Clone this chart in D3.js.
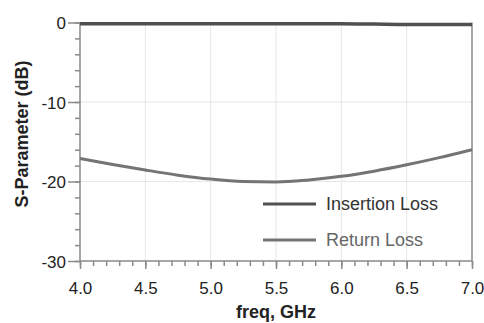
<!DOCTYPE html>
<html>
<head>
<meta charset="utf-8">
<script src="https://cdn.jsdelivr.net/npm/d3@7"></script>
<style>
  body { margin: 0; background: #fff; }
  svg { display: block; font-family: "Liberation Sans", Arial, sans-serif; }
</style>
</head>
<body>
<div id="plot"></div>
<script>
// data
const freq = [4.0, 4.25, 4.5, 4.75, 5.0, 5.25, 5.5, 5.75, 6.0, 6.25, 6.5, 6.75, 7.0];
const insertionLoss = [-0.15, -0.15, -0.15, -0.15, -0.15, -0.15, -0.15, -0.15, -0.15, -0.2, -0.25, -0.25, -0.25];
const returnLoss = [-17.1, -17.85, -18.55, -19.2, -19.7, -20.0, -20.05, -19.8, -19.35, -18.7, -17.9, -17.0, -16.0];
const xTicks = [4.0, 4.5, 5.0, 5.5, 6.0, 6.5, 7.0];
const yTicks = [0, -10, -20, -30];
const seriesNames = ["Insertion Loss", "Return Loss"];

const W = 484, H = 323;
const margin = { top: 22.5, left: 80, bottom: 62, right: 12 };

const svg = d3.select("#plot").append("svg")
    .attr("width", W)
    .attr("height", H);

const x = d3.scaleLinear().domain([4, 7]).range([margin.left, W - margin.right]);
const y = d3.scaleLinear().domain([-30, 0]).range([H - margin.bottom, margin.top]);

const plot = svg.append("g");

// grid
plot.append("g").selectAll("line.vg")
    .data(xTicks.slice(1, -1)).enter().append("line")
    .attr("x1", d => x(d)).attr("x2", d => x(d))
    .attr("y1", y(0)).attr("y2", y(-30))
    .attr("stroke", "#e6e6e6").attr("stroke-width", 1);
plot.append("g").selectAll("line.hg")
    .data(yTicks.slice(1, -1)).enter().append("line")
    .attr("x1", x(4)).attr("x2", x(7))
    .attr("y1", d => y(d)).attr("y2", d => y(d))
    .attr("stroke", "#e6e6e6").attr("stroke-width", 1);

// right border
plot.append("line")
    .attr("x1", x(7)).attr("x2", x(7))
    .attr("y1", y(0)).attr("y2", y(-30))
    .attr("stroke", "#8a8a8a").attr("stroke-width", 1.5);

// x axis: minor every 0.1, major every 0.5
const xMinor = d3.range(40, 71).map(d => d / 10);
const xAxisMinor = d3.axisBottom(x).tickValues(xMinor).tickSize(5).tickFormat("");
const xAxisMajor = d3.axisBottom(x).tickValues(xTicks).tickSize(8).tickPadding(13)
    .tickFormat(d3.format(".1f"));

const gxm = plot.append("g").attr("transform", `translate(0,${y(-30)})`).call(xAxisMinor);
const gx = plot.append("g").attr("transform", `translate(0,${y(-30)})`).call(xAxisMajor);

// y axis: minor every 2 dB, major every 10
const yMinor = d3.range(-30, 1, 2);
const yAxisMinor = d3.axisLeft(y).tickValues(yMinor).tickSize(5).tickFormat("");
const yAxisMajor = d3.axisLeft(y).tickValues(yTicks).tickSize(12).tickPadding(2)
    .tickFormat(d => String(d));

const gym = plot.append("g").attr("transform", `translate(${x(4)},0)`).call(yAxisMinor);
const gy = plot.append("g").attr("transform", `translate(${x(4)},0)`).call(yAxisMajor);

[gxm, gx, gym, gy].forEach(g => {
    g.selectAll("line").attr("stroke", "#8a8a8a").attr("stroke-width", 1.5);
    g.select(".domain").remove();
});
plot.append("line")
    .attr("x1", x(4)).attr("x2", x(7)).attr("y1", y(-30)).attr("y2", y(-30))
    .attr("stroke", "#8a8a8a").attr("stroke-width", 1.5);
plot.append("line")
    .attr("x1", x(4)).attr("x2", x(4)).attr("y1", y(0)).attr("y2", y(-30))
    .attr("stroke", "#8a8a8a").attr("stroke-width", 1.5);

gx.selectAll("text").attr("font-size", 17).attr("fill", "#222")
    .style("font-family", "'Liberation Sans', Arial, sans-serif");
gy.selectAll("text").attr("font-size", 17).attr("fill", "#222")
    .attr("dy", "0.36em")
    .style("font-family", "'Liberation Sans', Arial, sans-serif");

// lines
const line = vals => d3.line()
    .x((d, i) => x(freq[i]))
    .y(d => y(d))
    .curve(d3.curveMonotoneX)(vals);

plot.append("path")
    .attr("d", line(returnLoss))
    .attr("fill", "none").attr("stroke", "#747474").attr("stroke-width", 3);

plot.append("path")
    .attr("d", line(insertionLoss))
    .attr("fill", "none").attr("stroke", "#505050").attr("stroke-width", 3.5);

// legend
const legend = plot.append("g");
const legendColors = ["#505050", "#747474"];
const legendText = ["#333", "#666"];
seriesNames.forEach((name, i) => {
    const ly = 204 + i * 36;
    legend.append("line")
        .attr("x1", 263).attr("x2", 316).attr("y1", ly).attr("y2", ly)
        .attr("stroke", legendColors[i]).attr("stroke-width", 3);
    legend.append("text")
        .attr("x", 326).attr("y", ly).attr("dy", "0.36em")
        .attr("font-size", 18).attr("fill", legendText[i])
        .text(name);
});

// axis titles
svg.append("text")
    .attr("x", (x(4) + x(7)) / 2).attr("y", 318)
    .attr("text-anchor", "middle")
    .attr("font-size", 18).attr("font-weight", "bold").attr("fill", "#222")
    .text("freq, GHz");

svg.append("text")
    .attr("transform", `translate(28,134) rotate(-90)`)
    .attr("text-anchor", "middle")
    .attr("font-size", 18).attr("font-weight", "bold").attr("fill", "#222")
    .text("S-Parameter (dB)");
</script>
</body>
</html>
